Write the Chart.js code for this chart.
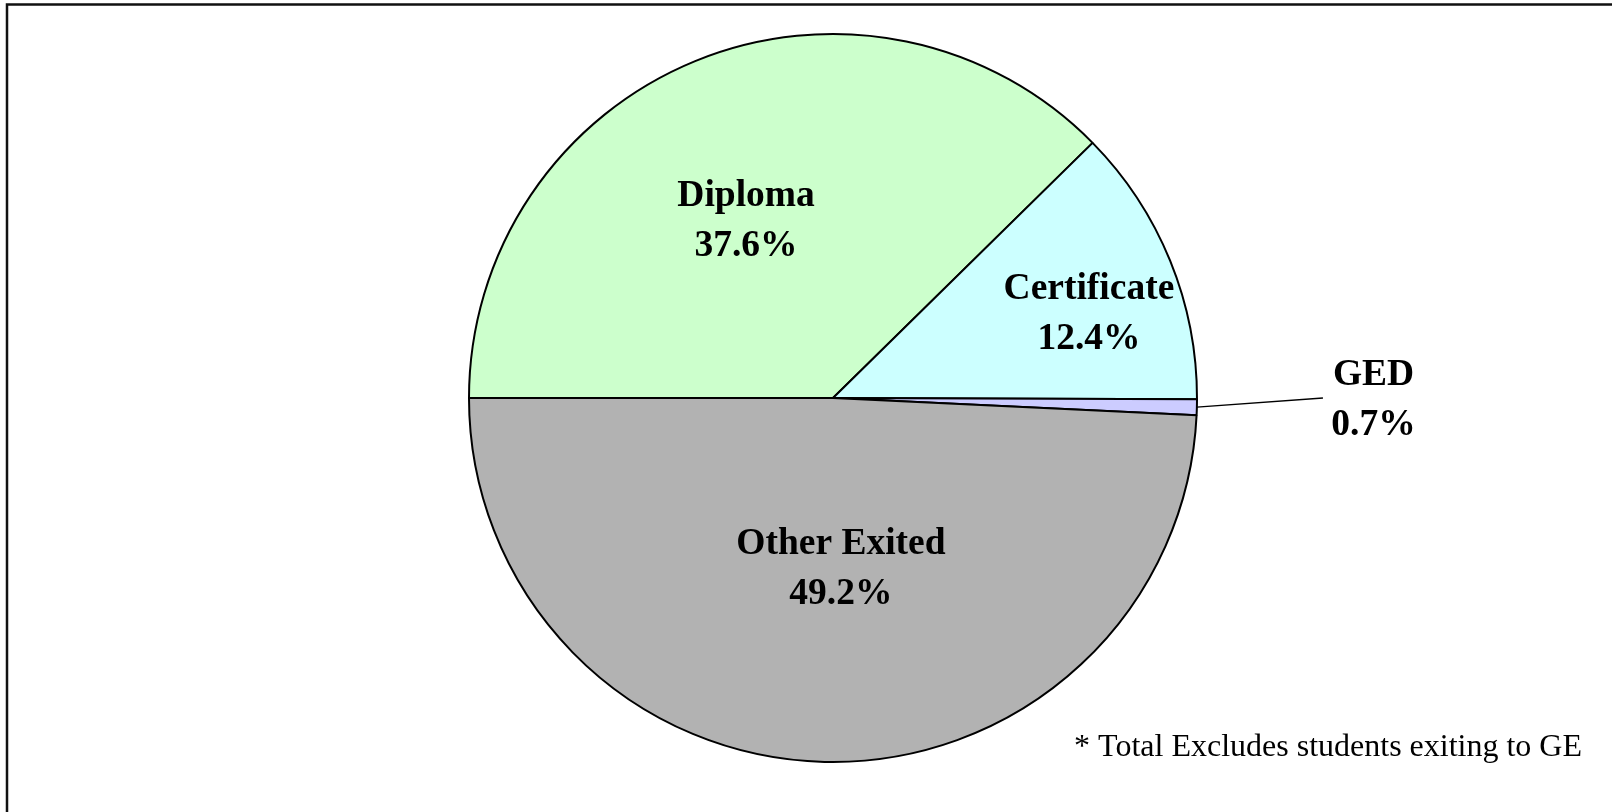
<!DOCTYPE html>
<html>
<head>
<meta charset="utf-8">
<title>Students exiting by completion type</title>
<script src="https://cdn.jsdelivr.net/npm/chart.js@4/dist/chart.umd.min.js"></script>
<style>
  html, body { margin: 0; padding: 0; background: #ffffff; }
  canvas { display: block; }
</style>
</head>
<body>
<canvas id="exitChart" width="1612" height="812"></canvas>
<script>
'use strict';

/** Exit categories, in drawing order (clockwise from 9 o'clock) */
const CATEGORIES = ['Diploma', 'Certificate', 'GED', 'Other Exited'];

/** Share of exiting students, percent */
const SHARES = [37.6, 12.4, 0.7, 49.2];

/** Slice fills */
const COLORS = ['#ccffcc', '#ccffff', '#ccccff', '#b2b2b2'];

const FOOTNOTE = '* Total Excludes students exiting to GE';

const SERIF = '"Liberation Serif", "Times New Roman", serif';

/** Where each label sits: fraction of the radius and an angle nudge in degrees */
const LABEL_PLACEMENT = [
  { r: 0.54, nudge: -4 },
  { r: 0.74, nudge: 4 },
  { outside: true },
  { r: 0.47, nudge: -4 }
];

/** Draws the outer frame lines */
const framePlugin = {
  id: 'frame',
  beforeDraw(chart) {
    const ctx = chart.ctx;
    ctx.save();
    ctx.strokeStyle = '#111111';
    ctx.lineWidth = 2.5;
    ctx.beginPath();
    ctx.moveTo(7, chart.height + 2);
    ctx.lineTo(7, 4.5);
    ctx.lineTo(chart.width + 2, 4.5);
    ctx.stroke();
    ctx.restore();
  }
};

/** Writes category name and percentage on each slice */
const sliceLabelPlugin = {
  id: 'sliceLabels',
  afterDatasetsDraw(chart) {
    const ctx = chart.ctx;
    const meta = chart.getDatasetMeta(0);
    const values = chart.data.datasets[0].data;
    ctx.save();
    ctx.font = 'bold 37.5px ' + SERIF;
    ctx.fillStyle = '#000000';
    ctx.textAlign = 'center';
    ctx.textBaseline = 'middle';
    meta.data.forEach((arc, i) => {
      const {x, y, startAngle, endAngle, outerRadius} =
        arc.getProps(['x', 'y', 'startAngle', 'endAngle', 'outerRadius'], true);
      const place = LABEL_PLACEMENT[i];
      const mid = (startAngle + endAngle) / 2;
      const lines = [chart.data.labels[i], values[i].toFixed(1) + '%'];
      let lx, ly;
      if (place.outside) {
        // leader line from the rim out to the label
        const sx = x + Math.cos(mid) * outerRadius;
        const sy = y + Math.sin(mid) * outerRadius;
        const ex = x + outerRadius * 1.346;
        const ey = y;
        ctx.strokeStyle = '#000000';
        ctx.lineWidth = 1.4;
        ctx.beginPath();
        ctx.moveTo(sx, sy);
        ctx.lineTo(ex, ey);
        ctx.stroke();
        lx = x + outerRadius * 1.485;
        ly = y + 2;
      } else {
        const a = mid + place.nudge * Math.PI / 180;
        lx = x + Math.cos(a) * outerRadius * place.r;
        ly = y + Math.sin(a) * outerRadius * place.r;
      }
      ctx.fillText(lines[0], lx, ly - 25);
      ctx.fillText(lines[1], lx, ly + 25);
    });
    ctx.restore();
  }
};

/** Footnote in the lower right corner */
const footnotePlugin = {
  id: 'footnote',
  afterDraw(chart) {
    const ctx = chart.ctx;
    ctx.save();
    ctx.font = '32px ' + SERIF;
    ctx.fillStyle = '#000000';
    ctx.textAlign = 'right';
    ctx.textBaseline = 'alphabetic';
    ctx.fillText(FOOTNOTE, 1582, 756);
    ctx.restore();
  }
};

const DATA = {
  labels: CATEGORIES,
  datasets: [{
    data: SHARES,
    backgroundColor: COLORS,
    borderColor: '#000000',
    borderWidth: 2,
    hoverOffset: 0,
    borderAlign: 'center'
  }]
};

const OPTIONS = {
  responsive: false,
  animation: false,
  rotation: 270,
  layout: {
    padding: { left: 468, right: 414, top: 33, bottom: 49 }
  },
  plugins: {
    legend: { display: false },
    tooltip: { enabled: false }
  }
};

const CTX = document.getElementById('exitChart').getContext('2d');

const exitChart = new Chart(CTX, {
  type: 'pie',
  data: DATA,
  options: OPTIONS,
  plugins: [framePlugin, sliceLabelPlugin, footnotePlugin]
});
</script>
</body>
</html>
